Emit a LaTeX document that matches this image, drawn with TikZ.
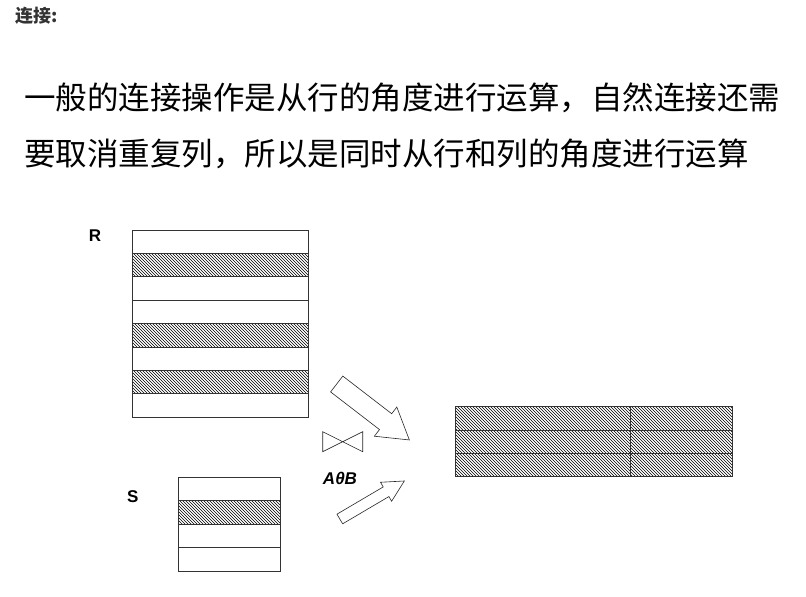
\documentclass[tikz,border=0pt]{standalone}
\usepackage{fontspec}
\setmainfont{Liberation Sans}
\newfontfamily\cjk{Noto Sans CJK SC}
\usetikzlibrary{patterns}
\tikzset{
tbl/.style = {draw = black!80, line width = 0.8pt},
arr/.style = {draw = black!85, line width = 0.6pt, fill = white},
lab/.style = {font = \fontsize{17}{20}\selectfont\bfseries}
}
\newcommand{\wrow}[4]{
\draw [tbl] (#1,#2) rectangle ++(#3,#4)
}
\newcommand{\hrow}[4]{
\draw [tbl, pattern = north west lines] (#1,#2) rectangle ++(#3,#4)
}
\newcommand{\bigarrow}[7]{
\begin{scope}[shift = {(#1,#2)}, rotate = #3]
\draw [arr] (0,-#5) -- (#4,-#5) -- (#4,-#6) -- (#4+#7,0) -- (#4,#6) -- (#4,#5) -- (0,#5) -- cycle;
\end{scope}
}
\begin{document}
\begin{tikzpicture}[x = 1pt, y = -1pt]
\useasboundingbox (0,0) rectangle (806,597);
\node [anchor = west, inner sep = 0pt, text = black!80, font = \cjk\fontsize{18}{20}\selectfont\bfseries] (title) at (15,15.5) {连接:};
\node [anchor = west, inner sep = 0pt, font = \cjk\fontsize{31.5}{36}\selectfont] (line1) at (24,98) {一般的连接操作是从行的角度进行运算，自然连接还需};
\node [anchor = west, inner sep = 0pt, font = \cjk\fontsize{31.5}{36}\selectfont] (line2) at (24,154) {要取消重复列，所以是同时从行和列的角度进行运算};

% R
\node [lab] (labR) at (95,236) {R};
\wrow{132.7}{230}{175.6}{23.4}; \hrow{132.7}{253.4}{175.6}{23.4};
\wrow{132.7}{276.8}{175.6}{23.4}; \wrow{132.7}{300.2}{175.6}{23.4};
\hrow{132.7}{323.6}{175.6}{23.4}; \wrow{132.7}{347}{175.6}{23.4};
\hrow{132.7}{370.4}{175.6}{23.4}; \wrow{132.7}{393.8}{175.6}{23.4};

% S
\node [lab] (labS) at (132.7,496.7) {S};
\wrow{178.3}{477.3}{101.7}{23.4}; \hrow{178.3}{500.7}{101.7}{23.4};
\wrow{178.3}{524.1}{101.7}{23.4}; \wrow{178.3}{547.5}{101.7}{23.4};

% join
\draw [line width = 0.6pt, draw = black!85] (322.7,431.7) -- (362.7,451.7) -- (362.7,431.7) -- (322.7,451.7) -- cycle;
\node [lab, font = \fontsize{17}{20}\selectfont\bfseries\itshape] (theta) at (340,478.3) {AθB};
\bigarrow{336.7}{384}{-37.6}{61.7}{10}{18.4}{30};
\bigarrow{339.8}{519}{30.5}{53.7}{5.6}{11}{21.2};

% result
\hrow{455}{406.7}{277.3}{23.3}; \hrow{455}{430}{277.3}{23.3};
\hrow{455}{453.3}{277.3}{23.3};
\draw [tbl] (630,406.7) -- (630,476.6);
\end{tikzpicture}
\end{document}
